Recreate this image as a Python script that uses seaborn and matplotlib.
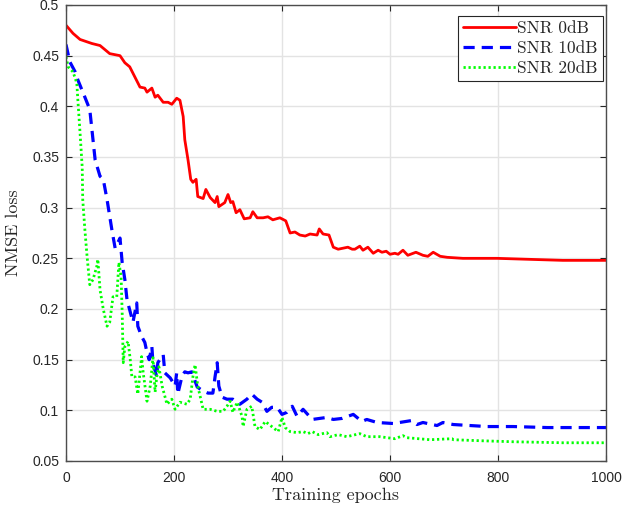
import matplotlib
matplotlib.use("Agg")
import matplotlib.pyplot as plt
import seaborn as sns
import pandas as pd

red_epochs = [0, 13, 26, 48, 63, 81, 100, 109, 118, 137,
              146, 150, 159, 165, 170, 180, 189, 196, 205, 211,
              217, 220, 226, 231, 235, 241, 244, 254, 259, 267,
              276, 280, 283, 294, 300, 305, 309, 315, 322, 330,
              341, 346, 354, 365, 374, 383, 396, 407, 415, 424,
              433, 443, 452, 465, 469, 476, 487, 495, 504, 513,
              522, 530, 535, 544, 550, 559, 569, 578, 585, 593,
              600, 609, 615, 624, 633, 648, 661, 670, 680, 693,
              706, 735, 767, 798, 859, 920, 1000]
red_loss = [0.480, 0.472, 0.466, 0.462, 0.460, 0.452, 0.450, 0.443, 0.439, 0.419,
            0.418, 0.414, 0.418, 0.409, 0.411, 0.404, 0.404, 0.402, 0.408, 0.406,
            0.390, 0.367, 0.347, 0.328, 0.325, 0.328, 0.311, 0.309, 0.318, 0.310,
            0.305, 0.311, 0.301, 0.305, 0.313, 0.305, 0.306, 0.295, 0.298, 0.289,
            0.290, 0.296, 0.290, 0.290, 0.291, 0.288, 0.290, 0.287, 0.275, 0.276,
            0.273, 0.272, 0.274, 0.273, 0.279, 0.274, 0.273, 0.261, 0.259, 0.260,
            0.261, 0.259, 0.259, 0.262, 0.258, 0.261, 0.255, 0.258, 0.256, 0.257,
            0.254, 0.255, 0.254, 0.258, 0.253, 0.256, 0.253, 0.252, 0.256, 0.252,
            0.251, 0.250, 0.250, 0.250, 0.249, 0.248, 0.248]

blue_epochs = [0, 7, 17, 22, 35, 44, 50, 54, 63, 69,
               76, 85, 91, 100, 104, 109, 113, 119, 124, 131,
               133, 140, 146, 150, 154, 159, 161, 168, 170, 180,
               183, 193, 202, 205, 207, 215, 220, 226, 233, 243,
               254, 263, 272, 276, 280, 283, 289, 298, 309, 322,
               335, 344, 354, 363, 372, 381, 391, 400, 409, 419,
               428, 439, 456, 483, 495, 511, 532, 548, 557, 576,
               606, 641, 650, 661, 687, 698, 717, 748, 780, 828,
               891, 1000]
blue_loss = [0.461, 0.444, 0.434, 0.426, 0.409, 0.397, 0.367, 0.347, 0.331, 0.328,
             0.308, 0.278, 0.260, 0.270, 0.246, 0.229, 0.209, 0.197, 0.187, 0.206,
             0.183, 0.173, 0.167, 0.157, 0.150, 0.163, 0.147, 0.133, 0.147, 0.155,
             0.137, 0.132, 0.124, 0.137, 0.116, 0.134, 0.138, 0.137, 0.138, 0.123,
             0.119, 0.117, 0.117, 0.133, 0.147, 0.124, 0.113, 0.111, 0.111, 0.106,
             0.111, 0.116, 0.111, 0.108, 0.099, 0.103, 0.103, 0.096, 0.098, 0.104,
             0.094, 0.101, 0.091, 0.093, 0.091, 0.092, 0.096, 0.089, 0.091, 0.088,
             0.087, 0.090, 0.086, 0.088, 0.085, 0.088, 0.086, 0.085, 0.084, 0.084,
             0.083, 0.083]

green_epochs = [0, 4, 13, 20, 22, 26, 30, 31, 35, 39,
                44, 50, 57, 59, 63, 69, 76, 81, 87, 94,
                98, 102, 104, 106, 109, 115, 119, 122, 128, 133,
                137, 140, 143, 150, 156, 161, 165, 168, 172, 178,
                187, 196, 202, 211, 224, 230, 235, 239, 244, 254,
                267, 280, 291, 298, 304, 309, 317, 326, 328, 335,
                344, 350, 359, 369, 381, 393, 400, 406, 415, 428,
                439, 448, 456, 467, 483, 489, 504, 520, 544, 557,
                581, 609, 624, 631, 674, 715, 717, 767, 828, 920,
                1000]
green_loss = [0.449, 0.439, 0.434, 0.423, 0.406, 0.374, 0.340, 0.308, 0.278, 0.252,
              0.224, 0.229, 0.242, 0.249, 0.219, 0.200, 0.183, 0.187, 0.212, 0.212,
              0.246, 0.232, 0.197, 0.147, 0.163, 0.168, 0.150, 0.133, 0.133, 0.116,
              0.137, 0.153, 0.137, 0.109, 0.124, 0.152, 0.118, 0.133, 0.143, 0.124,
              0.106, 0.111, 0.101, 0.108, 0.106, 0.111, 0.133, 0.145, 0.124, 0.101,
              0.101, 0.099, 0.099, 0.104, 0.109, 0.098, 0.108, 0.094, 0.084, 0.101,
              0.104, 0.084, 0.081, 0.089, 0.084, 0.079, 0.093, 0.083, 0.079, 0.078,
              0.079, 0.077, 0.079, 0.076, 0.078, 0.074, 0.076, 0.074, 0.077, 0.074,
              0.074, 0.072, 0.075, 0.073, 0.071, 0.072, 0.071, 0.070, 0.069, 0.068,
              0.068]

labels = ["SNR 0dB", "SNR 10dB", "SNR 20dB"]
x_ticks = [0, 200, 400, 600, 800, 1000]
y_ticks = [0.05, 0.1, 0.15, 0.2, 0.25, 0.3, 0.35, 0.4, 0.45, 0.5]
y_tick_labels = ["0.05", "0.1", "0.15", "0.2", "0.25", "0.3", "0.35", "0.4", "0.45", "0.5"]

sns.set_theme(style="ticks")
plt.rcParams["font.family"] = ["Liberation Sans", "DejaVu Sans"]

fig = plt.figure(figsize=(6.22, 5.12), dpi=100)
ax = fig.add_axes([66 / 622, 1 - 461 / 512, 540 / 622, 456 / 512])

df_red = pd.DataFrame({"epoch": red_epochs, "loss": red_loss})
df_blue = pd.DataFrame({"epoch": blue_epochs, "loss": blue_loss})
df_green = pd.DataFrame({"epoch": green_epochs, "loss": green_loss})

sns.lineplot(data=df_red, x="epoch", y="loss", ax=ax, color="#ff0000",
             linewidth=2.0, linestyle="-", label=labels[0])
sns.lineplot(data=df_blue, x="epoch", y="loss", ax=ax, color="#0000ff",
             linewidth=2.3, linestyle=(0, (3.5, 2.2)), label=labels[1])
sns.lineplot(data=df_green, x="epoch", y="loss", ax=ax, color="#00ff00",
             linewidth=2.0, linestyle=(0, (0.8, 1.0)), label=labels[2])

ax.set_xlim(0, 1000)
ax.set_ylim(0.05, 0.5)
ax.set_xticks(x_ticks)
ax.set_yticks(y_ticks)
ax.set_yticklabels(y_tick_labels)
ax.grid(True, color="#e3e3e3", linewidth=1.0)
ax.set_axisbelow(True)
for s in ax.spines.values():
    s.set_color("#4d4d4d")
    s.set_linewidth(1.0)
ax.tick_params(direction="in", length=4, width=0.8, color="#262626",
               labelsize=10, labelcolor="#262626", top=True, right=True)
ax.tick_params(axis="x", pad=7)
ax.tick_params(axis="y", pad=5)

serif = ["cmr10", "Liberation Serif", "DejaVu Serif"]
ax.set_xlabel("Training epochs", fontsize=13, family=serif, color="#262626", labelpad=2)
ax.set_ylabel("NMSE loss", fontsize=13, family=serif, color="#262626", labelpad=8)

leg = ax.legend(loc="upper right", bbox_to_anchor=(0.9944, 0.976), frameon=True,
                fancybox=False, edgecolor="#262626", framealpha=1,
                prop={"family": serif, "size": 12.5}, handlelength=3.0,
                handletextpad=0.1, borderpad=0.3, labelspacing=0.25,
                borderaxespad=0.0)
leg.get_frame().set_linewidth(0.8)

fig.savefig("out.png", dpi=100)
